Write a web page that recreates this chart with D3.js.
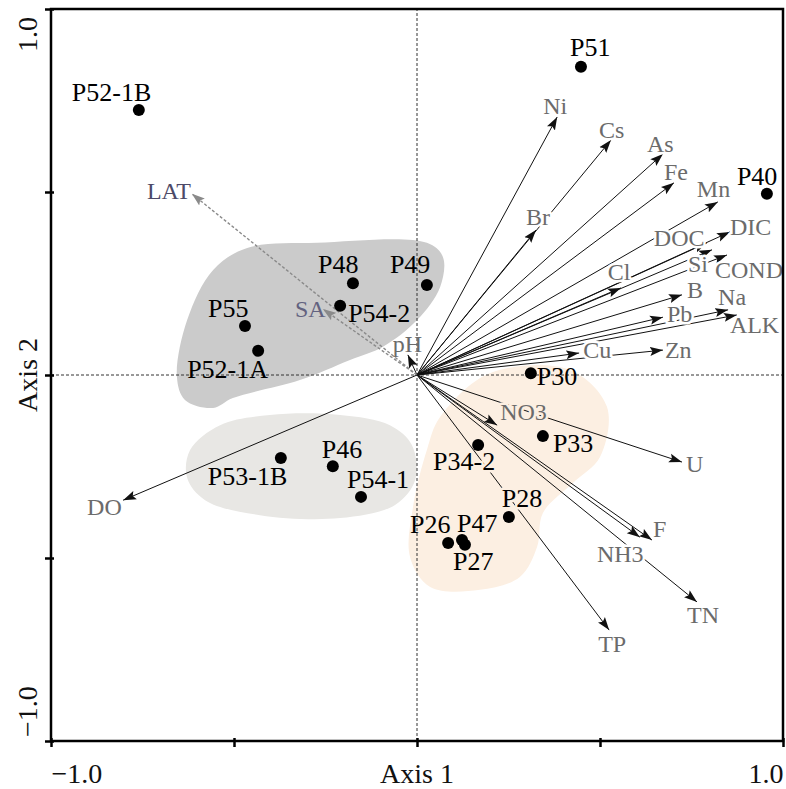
<!DOCTYPE html>
<html>
<head>
<meta charset="utf-8">
<script src="https://cdn.jsdelivr.net/npm/d3@7"></script>
<style>
  body { margin: 0; background: #fff; }
  text { font-family: "Liberation Serif", "Times New Roman", serif; }
</style>
</head>
<body>
<svg id="chart" width="786" height="789"></svg>
<script>
// sites (sample scores)
var siteNames = ["P52-1B","P51","P40","P48","P49","P54-2","P55","P52-1A","P53-1B","P46","P54-1",
                 "P30","P33","P34-2","P28","P26","P47","P27"];
var siteAxis1 = [-0.760, 0.448, 0.956, -0.175, 0.027, -0.210, -0.470, -0.434, -0.372, -0.230, -0.153,
                 0.311, 0.344, 0.167, 0.251, 0.085, 0.123, 0.131];
var siteAxis2 = [0.724, 0.842, 0.495, 0.251, 0.246, 0.189, 0.134, 0.066, -0.227, -0.249, -0.333,
                 0.005, -0.167, -0.191, -0.388, -0.459, -0.451, -0.464];

// environmental variables (arrow tips)
var varNames = ["Ni","Cs","As","Fe","Mn","Br","DIC","DOC","Si","COND","Cl","B","Pb","Na","ALK",
                "Cu","Zn","pH","SA","LAT","DO","NO3","U","NH3","F","TN","TP"];
var varAxis1 = [0.383, 0.530, 0.672, 0.702, 0.822, 0.325, 0.855, 0.792, 0.806, 0.847, 0.557, 0.724, 0.672, 0.850, 0.874,
                0.443, 0.672, -0.025, -0.257, -0.615, -0.803, 0.219, 0.724, 0.609, 0.642, 0.765, 0.525];
var varAxis2 = [0.705, 0.642, 0.604, 0.525, 0.473, 0.396, 0.391, 0.361, 0.342, 0.328, 0.238, 0.219, 0.158, 0.178, 0.164,
                0.060, 0.068, 0.055, 0.180, 0.495, -0.342, -0.137, -0.238, -0.443, -0.451, -0.620, -0.697];
var supplementary = ["SA","LAT"];

// group outlines
var hullLight = [[-0.620,-0.205],[-0.538,-0.137],[-0.402,-0.109],[-0.210,-0.109],[-0.074,-0.137],[-0.014,-0.191],
                 [-0.005,-0.287],[-0.060,-0.355],[-0.210,-0.391],[-0.429,-0.383],[-0.579,-0.342],[-0.628,-0.281]];
var hullDark = [[-0.464,0.347],[-0.273,0.361],[0.027,0.361],[0.071,0.322],[0.063,0.240],[0.000,0.150],[-0.093,0.077],
                [-0.183,0.041],[-0.320,-0.014],[-0.503,-0.063],[-0.557,-0.090],[-0.634,-0.068],[-0.656,-0.005],
                [-0.628,0.150],[-0.557,0.287]];
var hullOrange = [[0.063,-0.115],[0.199,0.005],[0.418,0.014],[0.519,-0.087],[0.500,-0.224],[0.426,-0.295],
                  [0.344,-0.377],[0.328,-0.470],[0.281,-0.552],[0.172,-0.587],[0.036,-0.579],[-0.019,-0.497],
                  [-0.011,-0.361],[0.027,-0.205]];

var tickValues = [-1, -0.5, 0, 0.5, 1];

// label placement (pixel offsets from the mark)
var siteLabelOffset = {
  "P52-1B":[-67,-9], "P51":[-11,-11], "P40":[-30,-9], "P48":[-35,-10], "P49":[-37,-12],
  "P54-2":[8,16], "P55":[-37,-9], "P52-1A":[-71,27], "P53-1B":[-73,27], "P46":[-11,-8],
  "P54-1":[-14,-9], "P30":[6,12], "P33":[10,16], "P34-2":[-45,25], "P28":[-7,-10],
  "P26":[-38,-10], "P47":[-5,-8], "P27":[-12,25]
};
var varLabelOffset = {
  Ni:[-14,-3], Cs:[-12,-2], As:[-16,-2], Fe:[-10,-3], Mn:[-21,-5], Br:[-10,-5], DIC:[0,3],
  DOC:[-53,3], Si:[-24,22], COND:[-12,23], Cl:[-13,-8], B:[5,3], Pb:[4,5], Na:[-10,-5],
  ALK:[-7,18], Cu:[4,5], Zn:[2,8], pH:[-15,-3], SA:[-28,8], LAT:[-45,5], DO:[-36,15],
  NO3:[3,-5], U:[4,10], NH3:[-43,25], F:[1,-3], TN:[-10,21], TP:[-11,22]
};

var colLight = "#e8e7e4", colDark = "#cbcbcb", colOrange = "#fcefe2";
var varHalo = { pH: null, SA: null, NO3: colOrange };
var siteHalo = { "P34-2": colOrange, "P28": colOrange };

var svg = d3.select("#chart");
var x = d3.scaleLinear().domain([-1, 1]).range([51, 783]);
var y = d3.scaleLinear().domain([-1, 1]).range([741, 9]);

var defs = svg.append("defs");
function marker(id, color) {
  defs.append("marker")
    .attr("id", id)
    .attr("viewBox", "0 -5 13 10")
    .attr("refX", 13).attr("refY", 0)
    .attr("markerWidth", 13).attr("markerHeight", 10)
    .attr("markerUnits", "userSpaceOnUse")
    .attr("orient", "auto")
    .append("path")
      .attr("d", "M0,-4.5L13,0L0,4.5L2.5,0Z")
      .attr("fill", color);
}
marker("head", "#111");
marker("headGrey", "#8a8a8a");

// hulls
var blob = d3.line()
  .x(function(d){ return x(d[0]); })
  .y(function(d){ return y(d[1]); })
  .curve(d3.curveCatmullRomClosed.alpha(0.5));

svg.append("path").attr("d", blob(hullLight)).attr("fill", colLight);
svg.append("path").attr("d", blob(hullDark)).attr("fill", colDark);
svg.append("path").attr("d", blob(hullOrange)).attr("fill", colOrange);

// zero lines
svg.append("line")
  .attr("x1", x(-1)).attr("x2", x(1)).attr("y1", y(0)).attr("y2", y(0))
  .attr("stroke", "#333").attr("stroke-width", 1).attr("stroke-dasharray", "3,2");
svg.append("line")
  .attr("x1", x(0)).attr("x2", x(0)).attr("y1", y(-1)).attr("y2", y(1))
  .attr("stroke", "#333").attr("stroke-width", 1).attr("stroke-dasharray", "3,2");

// arrows
var vars = varNames.map(function(n, i){
  return { name: n, a1: varAxis1[i], a2: varAxis2[i], supp: supplementary.indexOf(n) >= 0 };
});

svg.append("g").selectAll("line")
  .data(vars)
  .enter()
  .append("line")
    .attr("x1", x(0)).attr("y1", y(0))
    .attr("x2", function(d){ return x(d.a1); })
    .attr("y2", function(d){ return y(d.a2); })
    .attr("stroke", function(d){ return d.supp ? "#8a8a8a" : "#111"; })
    .attr("stroke-width", function(d){ return d.supp ? 1.4 : 1; })
    .attr("stroke-dasharray", function(d){ return d.supp ? "3,2" : null; })
    .attr("marker-end", function(d){ return d.supp ? "url(#headGrey)" : "url(#head)"; });

// sites
var sites = siteNames.map(function(n, i){ return { name: n, a1: siteAxis1[i], a2: siteAxis2[i] }; });

svg.append("g").selectAll("circle")
  .data(sites)
  .enter()
  .append("circle")
    .attr("cx", function(d){ return x(d.a1); })
    .attr("cy", function(d){ return y(d.a2); })
    .attr("r", 6)
    .attr("fill", "#000");

// variable labels
svg.append("g").selectAll("text")
  .data(vars)
  .enter()
  .append("text")
    .attr("x", function(d){ return x(d.a1) + varLabelOffset[d.name][0]; })
    .attr("y", function(d){ return y(d.a2) + varLabelOffset[d.name][1]; })
    .attr("font-size", 24)
    .attr("fill", function(d){ return d.name === "LAT" ? "#4d4a68" : (d.name === "SA" ? "#62627f" : "#6b6b6b"); })
    .attr("stroke", function(d){ return d.name in varHalo ? varHalo[d.name] : "#fff"; })
    .attr("stroke-width", 5)
    .attr("stroke-linejoin", "round")
    .attr("paint-order", "stroke")
    .text(function(d){ return d.name; });

// site labels
svg.append("g").selectAll("text")
  .data(sites)
  .enter()
  .append("text")
    .attr("x", function(d){ return x(d.a1) + siteLabelOffset[d.name][0]; })
    .attr("y", function(d){ return y(d.a2) + siteLabelOffset[d.name][1]; })
    .attr("font-size", 26)
    .attr("fill", "#000")
    .attr("stroke", function(d){ return siteHalo[d.name] || null; })
    .attr("stroke-width", 5)
    .attr("stroke-linejoin", "round")
    .attr("paint-order", "stroke")
    .text(function(d){ return d.name; });

// frame and axes
svg.append("rect")
  .attr("x", x(-1)).attr("y", y(1))
  .attr("width", x(1) - x(-1)).attr("height", y(-1) - y(1))
  .attr("fill", "none").attr("stroke", "#000").attr("stroke-width", 2.5);

var fmt = d3.format(".1f");
var xAxis = svg.append("g")
  .attr("transform", "translate(0," + y(-1) + ")")
  .call(d3.axisBottom(x).tickValues(tickValues).tickSize(6).tickPadding(16)
        .tickFormat(function(d){ return Math.abs(d) === 1 ? fmt(d) : ""; }));
xAxis.select(".domain").remove();
xAxis.selectAll(".tick line").attr("stroke", "#000").attr("stroke-width", 2.5).attr("y1", -3);
xAxis.selectAll(".tick text")
  .attr("font-family", "Liberation Serif")
  .attr("font-size", 28).attr("fill", "#111")
  .attr("dy", "0.71em")
  .attr("text-anchor", function(d){ return d < 0 ? "start" : "end"; });

var yAxis = svg.append("g")
  .attr("transform", "translate(" + x(-1) + ",0)")
  .call(d3.axisLeft(y).tickValues(tickValues).tickSize(6).tickFormat(""));
yAxis.select(".domain").remove();
yAxis.selectAll(".tick line").attr("stroke", "#000").attr("stroke-width", 2.5).attr("x1", 3);

svg.append("g").selectAll("text")
  .data([-1, 1])
  .enter()
  .append("text")
    .attr("transform", function(d){
      var yy = d < 0 ? y(d) - 4 : y(d) + 8;
      return "translate(37," + yy + ") rotate(-90)";
    })
    .attr("text-anchor", function(d){ return d < 0 ? "start" : "end"; })
    .attr("font-size", 28).attr("fill", "#111")
    .text(function(d){ return fmt(d); });

svg.append("text")
  .attr("x", x(0)).attr("y", 783)
  .attr("text-anchor", "middle")
  .attr("font-size", 28).attr("fill", "#111")
  .text("Axis 1");

svg.append("text")
  .attr("transform", "translate(37," + y(0) + ") rotate(-90)")
  .attr("text-anchor", "middle")
  .attr("font-size", 28).attr("fill", "#111")
  .text("Axis 2");
</script>
</body>
</html>
